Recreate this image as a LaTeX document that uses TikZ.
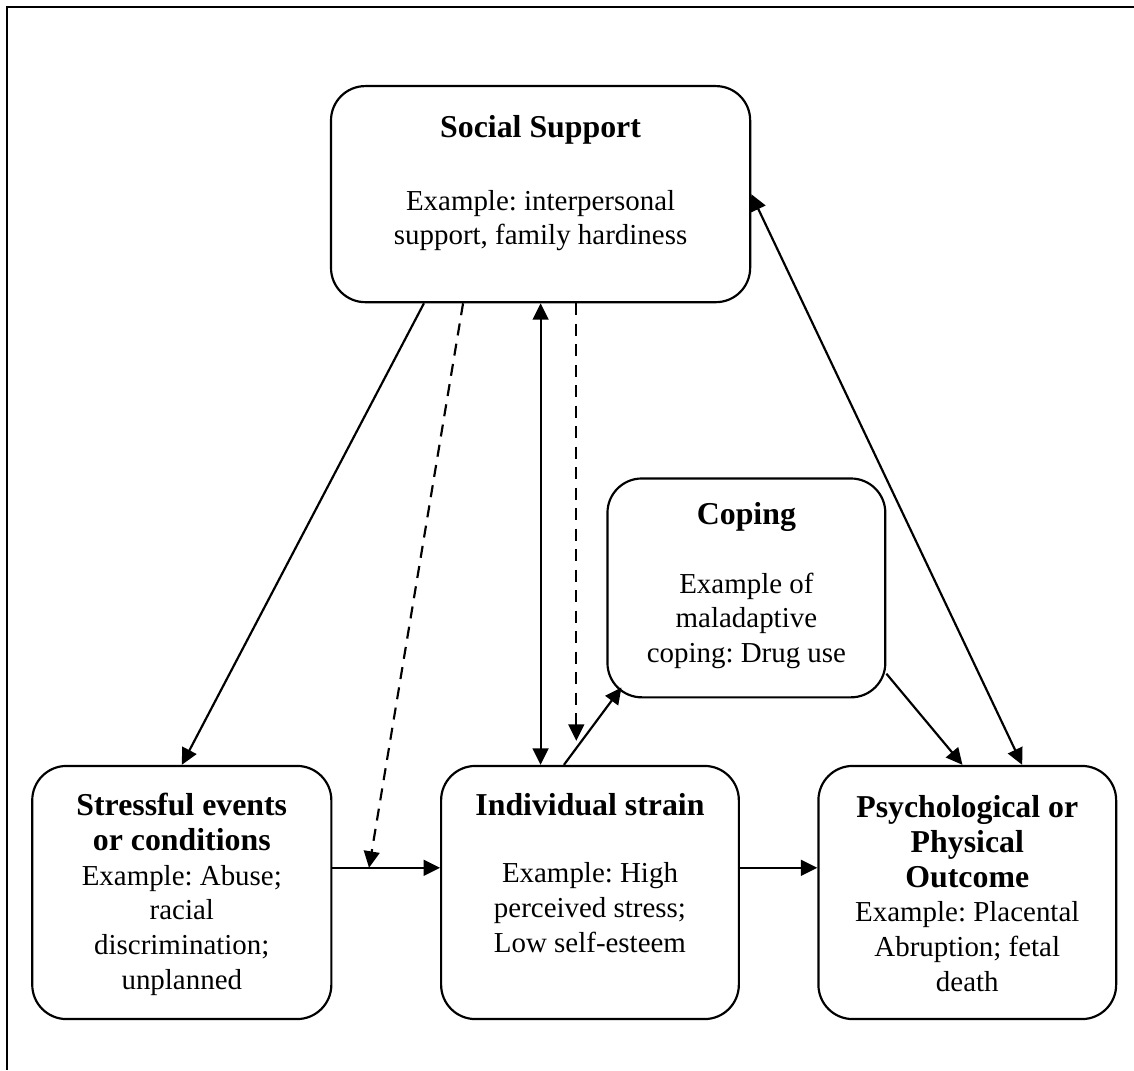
\documentclass[tikz,border=0pt]{standalone}
\usepackage{fontspec}
\setmainfont{Liberation Serif}
\usetikzlibrary{arrows.meta,calc}
\frenchspacing

\tikzset{
  box/.style={draw, line width=0.9pt, rounded corners=0.5cm, inner sep=0pt},
  boxtext/.style={anchor=base, align=center, inner sep=0pt, font=\fontsize{12}{14.4}\selectfont},
  link/.style={line width=0.9pt, -{Triangle[length=0.24cm,width=0.23cm]}},
  twoway/.style={line width=0.9pt, {Triangle[length=0.24cm,width=0.23cm]}-{Triangle[length=0.24cm,width=0.23cm]}},
  moderate/.style={link, dash pattern=on 5pt off 3.5pt}
}
\newcommand{\hd}[1]{{\fontsize{13.2}{14.4}\selectfont\bfseries #1}}

\begin{document}
\begin{tikzpicture}
	\useasboundingbox (0,0) rectangle (16.53,-15.60);
	\draw[line width=1pt] (0.10,-15.60) -- (0.10,-0.10) -- (16.53,-0.10);
	
	\node[box, minimum width=6.11cm, minimum height=3.15cm] (social) at (7.88,-2.83) {};
	\node[box, minimum width=4.36cm, minimum height=3.69cm] (stress) at (2.65,-13.01) {};
	\node[box, minimum width=4.34cm, minimum height=3.69cm] (strain) at (8.60,-13.01) {};
	\node[box, minimum width=4.34cm, minimum height=3.69cm] (outcome) at (14.10,-13.01) {};
	\node[box, minimum width=4.05cm, minimum height=3.19cm] (coping) at (10.88,-8.57) {};
	
	% base = last line of each text
	\node[boxtext] (socialtext) at ([yshift=-2.33cm]social.north) {\hd{Social Support}\\[15.7pt] Example: interpersonal\\ support, family hardiness};
	\node[boxtext] (stresstext) at ([yshift=-3.27cm]stress.north) {\hd{Stressful events}\\ \hd{or conditions}\\ Example: Abuse;\\ racial\\ discrimination;\\ unplanned};
	\node[boxtext] (straintext) at ([yshift=-2.73cm]strain.north) {\hd{Individual strain}\\[13.6pt] Example: High\\ perceived stress;\\ Low self-esteem};
	\node[boxtext] (outcometext) at ([yshift=-3.30cm]outcome.north) {\hd{Psychological or}\\ \hd{Physical}\\ \hd{Outcome}\\ Example: Placental\\ Abruption; fetal\\ death};
	\node[boxtext] (copingtext) at ([yshift=-2.70cm]coping.north) {\hd{Coping}\\[13.9pt] Example of\\ maladaptive\\ coping: Drug use};
	
	\coordinate (junction) at ($([yshift=0.36cm]stress.east)!0.34!([yshift=0.36cm]strain.west)$);
	\coordinate (abovestrain) at ([xshift=-0.20cm,yshift=0.35cm]strain.north);
	
	\draw[link] ([yshift=0.36cm]stress.east) -- ([yshift=0.36cm]strain.west);
	\draw[link] ([yshift=0.36cm]strain.east) -- ([yshift=0.36cm]outcome.west);
	\draw[link] ([xshift=-1.70cm]social.south) -- (stress.north);
	\draw[moderate] ([xshift=-1.13cm]social.south) -- (junction);
	\draw[twoway] (social.south) -- (social.south |- strain.north);
	\draw[moderate] ([xshift=0.52cm]social.south) -- (abovestrain);
	\draw[link] ([xshift=-0.38cm]strain.north) -- ([shift={(0.22,0.16)}]coping.south west);
	\draw[link] ([yshift=0.36cm]coping.south east) -- ([xshift=-0.07cm]outcome.north);
	\draw[twoway] (social.east) -- ([xshift=0.80cm]outcome.north);
\end{tikzpicture}
\end{document}
